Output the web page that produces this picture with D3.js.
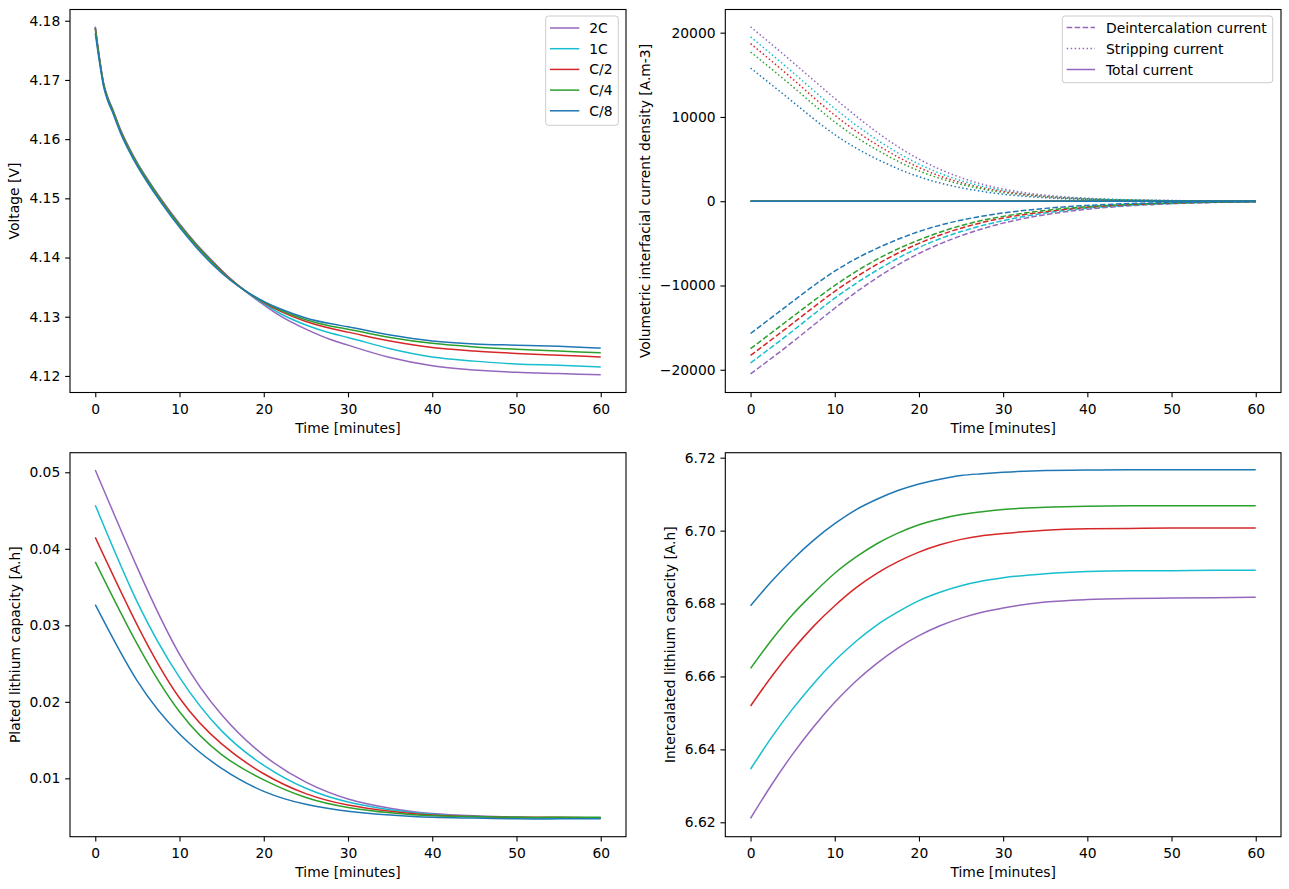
<!DOCTYPE html>
<html><head><meta charset="utf-8">
<script src="https://cdn.jsdelivr.net/npm/d3@7"></script>
<style>
body{margin:0;background:#fff}
svg text{font-family:"DejaVu Sans",sans-serif;font-size:13.89px;fill:#000}
</style>
</head><body><svg id="c" width="1289" height="889"></svg>
<script>
// ---------- data ----------
const seriesNames = ["2C","1C","C/2","C/4","C/8"];
const seriesColors = ["#9467bd","#17becf","#d62728","#2ca02c","#1f77b4"];

// Voltage [V]
const timeV = [0,0.5,1,1.5,2,3,4,5,6,8,10,12,14,16,18,20,22,25,28,30,35,40,45,50,55,60];
const voltage2C = [4.1790,4.1737,4.1694,4.1670,4.1653,4.1616,4.1586,4.1560,4.1537,4.1495,4.1457,4.1423,4.1393,4.1365,4.1341,4.1320,4.1301,4.1279,4.1261,4.1252,4.1231,4.1217,4.1210,4.1206,4.1204,4.1202];
const voltage1C = [4.1789,4.1736,4.1693,4.1669,4.1652,4.1615,4.1585,4.1559,4.1536,4.1494,4.1456,4.1422,4.1392,4.1364,4.1341,4.1322,4.1305,4.1286,4.1272,4.1265,4.1246,4.1232,4.1225,4.1220,4.1218,4.1215];
const voltageC2 = [4.1788,4.1735,4.1692,4.1668,4.1651,4.1614,4.1584,4.1558,4.1535,4.1493,4.1455,4.1421,4.1391,4.1364,4.1342,4.1324,4.1309,4.1292,4.1280,4.1274,4.1259,4.1248,4.1242,4.1238,4.1235,4.1232];
const voltageC4 = [4.1786,4.1734,4.1691,4.1667,4.1650,4.1613,4.1583,4.1557,4.1534,4.1492,4.1454,4.1420,4.1390,4.1363,4.1342,4.1325,4.1311,4.1295,4.1284,4.1279,4.1265,4.1255,4.1249,4.1245,4.1242,4.1239];
const voltageC8 = [4.1779,4.1730,4.1688,4.1664,4.1647,4.1610,4.1580,4.1554,4.1531,4.1489,4.1451,4.1417,4.1387,4.1362,4.1342,4.1326,4.1313,4.1298,4.1288,4.1283,4.1269,4.1259,4.1254,4.1252,4.1250,4.1247];

// Current densities [A.m-3]
const timeI = [0,5,10,15,20,25,30,35,40,45,50,55,60];
const deint2C = [-20500,-16700,-12700,-9100,-6200,-4100,-2600,-1600,-950,-550,-300,-150,-80];
const deint1C = [-19200,-15400,-11500,-8200,-5500,-3600,-2300,-1400,-820,-470,-260,-130,-70];
const deintC2 = [-18300,-14500,-10700,-7500,-5000,-3200,-2000,-1250,-730,-420,-230,-120,-60];
const deintC4 = [-17500,-13700,-10000,-6900,-4600,-2900,-1800,-1100,-650,-380,-200,-100,-50];
const deintC8 = [-15700,-11900,-8300,-5600,-3600,-2250,-1400,-850,-500,-280,-150,-80,-40];
const strip2C = [20700,16500,12200,8200,5000,2800,1450,720,350,170,80,40,20];
const strip1C = [19500,15300,11000,7300,4400,2450,1270,630,310,150,70,35,15];
const stripC2 = [18700,14500,10200,6700,4000,2200,1150,570,280,135,65,30,15];
const stripC4 = [17700,13600,9400,6100,3600,2000,1030,510,250,120,55,25,10];
const stripC8 = [15800,11800,7900,5000,2900,1600,830,410,200,100,50,25,10];
const total2C = [0,0,0,0,0,0,0,0,0,0,0,0,0];
const total1C = [0,0,0,0,0,0,0,0,0,0,0,0,0];
const totalC2 = [0,0,0,0,0,0,0,0,0,0,0,0,0];
const totalC4 = [0,0,0,0,0,0,0,0,0,0,0,0,0];
const totalC8 = [0,0,0,0,0,0,0,0,0,0,0,0,0];

// Plated lithium capacity [A.h]
const timeP = [0,5,10,15,20,25,30,35,40,45,50,55,60];
const plated2C = [0.0503,0.0375,0.0262,0.0183,0.0130,0.0095,0.0073,0.0061,0.0054,0.0051,0.0049,0.0048,0.0048];
const plated1C = [0.0457,0.0330,0.0232,0.0162,0.0117,0.0087,0.0069,0.0059,0.0053,0.0050,0.0049,0.0048,0.0048];
const platedC2 = [0.0415,0.0300,0.0205,0.0145,0.0106,0.0080,0.0065,0.0057,0.0052,0.0050,0.0049,0.0049,0.0048];
const platedC4 = [0.0383,0.0275,0.0187,0.0131,0.0098,0.0075,0.0062,0.0055,0.0051,0.0050,0.0049,0.0049,0.0049];
const platedC8 = [0.0327,0.0227,0.0158,0.0113,0.0083,0.0066,0.0057,0.0052,0.0049,0.0048,0.0047,0.0047,0.0047];

// Intercalated lithium capacity [A.h]
const timeC = [0,2.5,5,7.5,10,12.5,15,17.5,20,22.5,25,27.5,30,35,40,45,50,55,60];
const inter2C = [6.6211,6.6303,6.6387,6.6462,6.6529,6.6587,6.6636,6.6678,6.6712,6.6739,6.6760,6.6776,6.6788,6.6804,6.6811,6.6814,6.6815,6.6816,6.6817];
const inter1C = [6.6346,6.6433,6.6511,6.6581,6.6643,6.6696,6.6741,6.6777,6.6808,6.6831,6.6849,6.6862,6.6871,6.6882,6.6888,6.6890,6.6890,6.6891,6.6891];
const interC2 = [6.6519,6.6600,6.6673,6.6738,6.6794,6.6843,6.6883,6.6915,6.6941,6.6961,6.6976,6.6986,6.6992,6.7001,6.7005,6.7006,6.7007,6.7007,6.7007];
const interC4 = [6.6622,6.6700,6.6770,6.6829,6.6883,6.6927,6.6964,6.6993,6.7016,6.7032,6.7044,6.7052,6.7058,6.7064,6.7067,6.7068,6.7068,6.7068,6.7068];
const interC8 = [6.6794,6.6861,6.6921,6.6974,6.7019,6.7057,6.7086,6.7110,6.7128,6.7141,6.7151,6.7156,6.7160,6.7165,6.7166,6.7167,6.7167,6.7167,6.7167];

const xTicks = [0,10,20,30,40,50,60];
const voltTicks = [4.12,4.13,4.14,4.15,4.16,4.17,4.18];
const currTicks = [-20000,-10000,0,10000,20000];
const platedTicks = [0.01,0.02,0.03,0.04,0.05];
const interTicks = [6.62,6.64,6.66,6.68,6.70,6.72];

// ---------- drawing ----------
const svg = d3.select("#c");
const TL = 4.86, PAD = 4.86;

function panel(o){
  const x = d3.scaleLinear().domain([-3,63]).range([o.x0,o.x1]);
  const y = d3.scaleLinear().domain(o.ydom).range([o.y1,o.y0]);
  const g = svg.append("g");
  o.lines.forEach(L=>{
    const line = d3.line().x((d,i)=>x(L.t[i])).y(d=>y(d)).curve(o.curve||d3.curveMonotoneX);
    g.append("path").attr("d",line(L.v)).attr("fill","none")
      .attr("stroke",L.color).attr("stroke-width",1.5)
      .attr("stroke-dasharray",L.dash||null);
  });
  const ax = g.append("g").attr("transform",`translate(0,${o.y1})`)
    .call(d3.axisBottom(x).tickValues(xTicks).tickFormat(d3.format("d")).tickSize(TL).tickPadding(PAD));
  ax.selectAll("text").attr("dy",11.8).style("font-size","13.89px").style("font-family","DejaVu Sans");
  const ay = g.append("g").attr("transform",`translate(${o.x0},0)`)
    .call(d3.axisLeft(y).tickValues(o.yticks).tickFormat(o.fmt).tickSize(TL).tickPadding(PAD));
  ay.selectAll("text").style("font-size","13.89px").style("font-family","DejaVu Sans");
  [ax,ay].forEach(a=>{a.select(".domain").remove(); a.selectAll("line").attr("stroke","#000").attr("stroke-width",1.1);});
  g.append("rect").attr("x",o.x0).attr("y",o.y0).attr("width",o.x1-o.x0).attr("height",o.y1-o.y0)
    .attr("fill","none").attr("stroke","#000").attr("stroke-width",1.1);
  g.append("text").attr("x",(o.x0+o.x1)/2).attr("y",o.y1+40).attr("text-anchor","middle").text("Time [minutes]");
  g.append("text").attr("transform",`translate(${o.ylx},${(o.y0+o.y1)/2}) rotate(-90)`)
    .attr("text-anchor","middle").text(o.ylabel);
  return {x,y,g};
}

function mk(t, arrs, dash){ return arrs.map((v,i)=>({t, v, color:seriesColors[i], dash})); }

panel({x0:70,x1:626,y0:9.5,y1:392.5,ydom:[4.1172,4.1819],yticks:voltTicks,fmt:d3.format(".2f"),
  ylabel:"Voltage [V]",ylx:19,
  lines:mk(timeV,[voltage2C,voltage1C,voltageC2,voltageC4,voltageC8])});

const curLines = [];
const deints=[deint2C,deint1C,deintC2,deintC4,deintC8];
const strips=[strip2C,strip1C,stripC2,stripC4,stripC8];
const totals=[total2C,total1C,totalC2,totalC4,totalC8];
seriesNames.forEach((n,i)=>{
  curLines.push({t:timeI,v:deints[i],color:seriesColors[i],dash:"5.55,2.4"});
  curLines.push({t:timeI,v:strips[i],color:seriesColors[i],dash:"1.5,2.475"});
  curLines.push({t:timeI,v:totals[i],color:seriesColors[i]});
});
panel({x0:725.3,x1:1281,y0:9.5,y1:392.5,ydom:[-22700,22750],yticks:currTicks,fmt:d3.format("d"),
  ylabel:"Volumetric interfacial current density [A.m-3]",ylx:649.5,lines:curLines,curve:d3.curveNatural});

panel({x0:70,x1:626,y0:452.7,y1:836.7,ydom:[0.00237,0.05256],yticks:platedTicks,fmt:d3.format(".2f"),
  ylabel:"Plated lithium capacity [A.h]",ylx:20,curve:d3.curveNatural,
  lines:mk(timeP,[plated2C,plated1C,platedC2,platedC4,platedC8])});

panel({x0:725.3,x1:1281,y0:452.7,y1:836.7,ydom:[6.61605,6.72137],yticks:interTicks,fmt:d3.format(".2f"),
  ylabel:"Intercalated lithium capacity [A.h]",ylx:674.5,curve:d3.curveMonotoneX,
  lines:mk(timeC,[inter2C,inter1C,interC2,interC4,interC8])});

function legend(x,y,w,h,items,lx0,lx1,tx){
  const g = svg.append("g");
  g.append("rect").attr("x",x).attr("y",y).attr("width",w).attr("height",h).attr("rx",2.8)
    .attr("fill","#fff").attr("fill-opacity",0.8).attr("stroke","#cccccc").attr("stroke-width",1);
  items.forEach(it=>{
    g.append("line").attr("x1",lx0).attr("x2",lx1).attr("y1",it.y).attr("y2",it.y)
      .attr("stroke",it.color).attr("stroke-width",1.5).attr("stroke-dasharray",it.dash||null);
    g.append("text").attr("x",tx).attr("y",it.y).attr("dy","0.36em").text(it.label);
  });
}
const rows1=[28,48.7,69.4,90.1,110.8];
legend(545.7,16,72.6,109.3, seriesNames.map((n,i)=>({label:n,color:seriesColors[i],y:rows1[i]})),550,579.3,589.3);
const curLabels=["Deintercalation current","Stripping current","Total current"];
const curDash=["5.55,2.4","1.5,2.475",null];
const rows2=[27.5,48.5,69.5];
legend(1062.3,16,210.4,66.7, curLabels.map((n,i)=>({label:n,color:seriesColors[0],dash:curDash[i],y:rows2[i]})),1066.7,1095,1106);
</script></body></html>
